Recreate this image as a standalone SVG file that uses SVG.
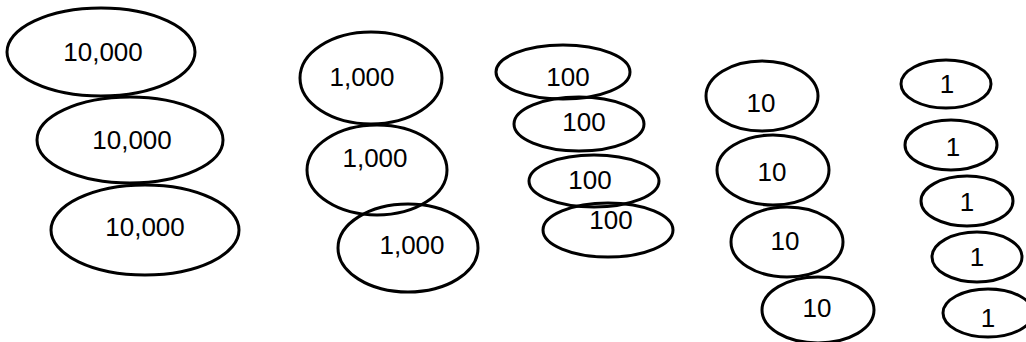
<svg xmlns="http://www.w3.org/2000/svg" width="1026" height="342" viewBox="0 0 1026 342">
<style>
ellipse{fill:none;stroke:#000;stroke-width:3}
text{font-family:"Liberation Sans",Arial,sans-serif;font-size:26px;fill:#000;text-anchor:middle}
</style>
<rect width="1026" height="342" fill="#fff"/>
<g id="n10000a"><ellipse cx="101" cy="52" rx="94" ry="44"/><text x="103" y="61">10,000</text></g>
<g id="n10000b"><ellipse cx="130" cy="140" rx="93" ry="43"/><text x="132" y="149">10,000</text></g>
<g id="n10000c"><ellipse cx="145" cy="230" rx="94" ry="45"/><text x="145" y="236">10,000</text></g>
<g id="n1000a"><ellipse cx="371" cy="78" rx="71" ry="46"/><text x="362" y="86">1,000</text></g>
<g id="n1000b"><ellipse cx="377" cy="170" rx="70" ry="45"/><text x="375" y="167">1,000</text></g>
<g id="n1000c"><ellipse cx="408" cy="248" rx="70" ry="44"/><text x="412" y="254">1,000</text></g>
<g id="n100a"><ellipse cx="563" cy="72" rx="67" ry="27"/><text x="568" y="86">100</text></g>
<g id="n100b"><ellipse cx="579" cy="124" rx="65" ry="27"/><text x="584" y="131">100</text></g>
<g id="n100c"><ellipse cx="594" cy="181" rx="65" ry="26"/><text x="590" y="189">100</text></g>
<g id="n100d"><ellipse cx="608" cy="230" rx="65" ry="27"/><text x="611" y="229">100</text></g>
<g id="n10a"><ellipse cx="762" cy="96" rx="56" ry="35"/><text x="761" y="112">10</text></g>
<g id="n10b"><ellipse cx="773" cy="170" rx="56" ry="35"/><text x="772" y="181">10</text></g>
<g id="n10c"><ellipse cx="787" cy="242" rx="56" ry="35"/><text x="785" y="250">10</text></g>
<g id="n10d"><ellipse cx="818" cy="310" rx="56" ry="33"/><text x="817" y="317">10</text></g>
<g id="n1a"><ellipse cx="946" cy="84" rx="45" ry="24"/><text x="947" y="93">1</text></g>
<g id="n1b"><ellipse cx="951" cy="145" rx="46" ry="25"/><text x="953" y="156">1</text></g>
<g id="n1c"><ellipse cx="967" cy="201" rx="46" ry="25"/><text x="967" y="211">1</text></g>
<g id="n1d"><ellipse cx="977" cy="257" rx="45" ry="25"/><text x="977" y="266">1</text></g>
<g id="n1e"><ellipse cx="988" cy="313" rx="45" ry="24"/><text x="988" y="327">1</text></g>
<g id="connectors"></g>
</svg>
